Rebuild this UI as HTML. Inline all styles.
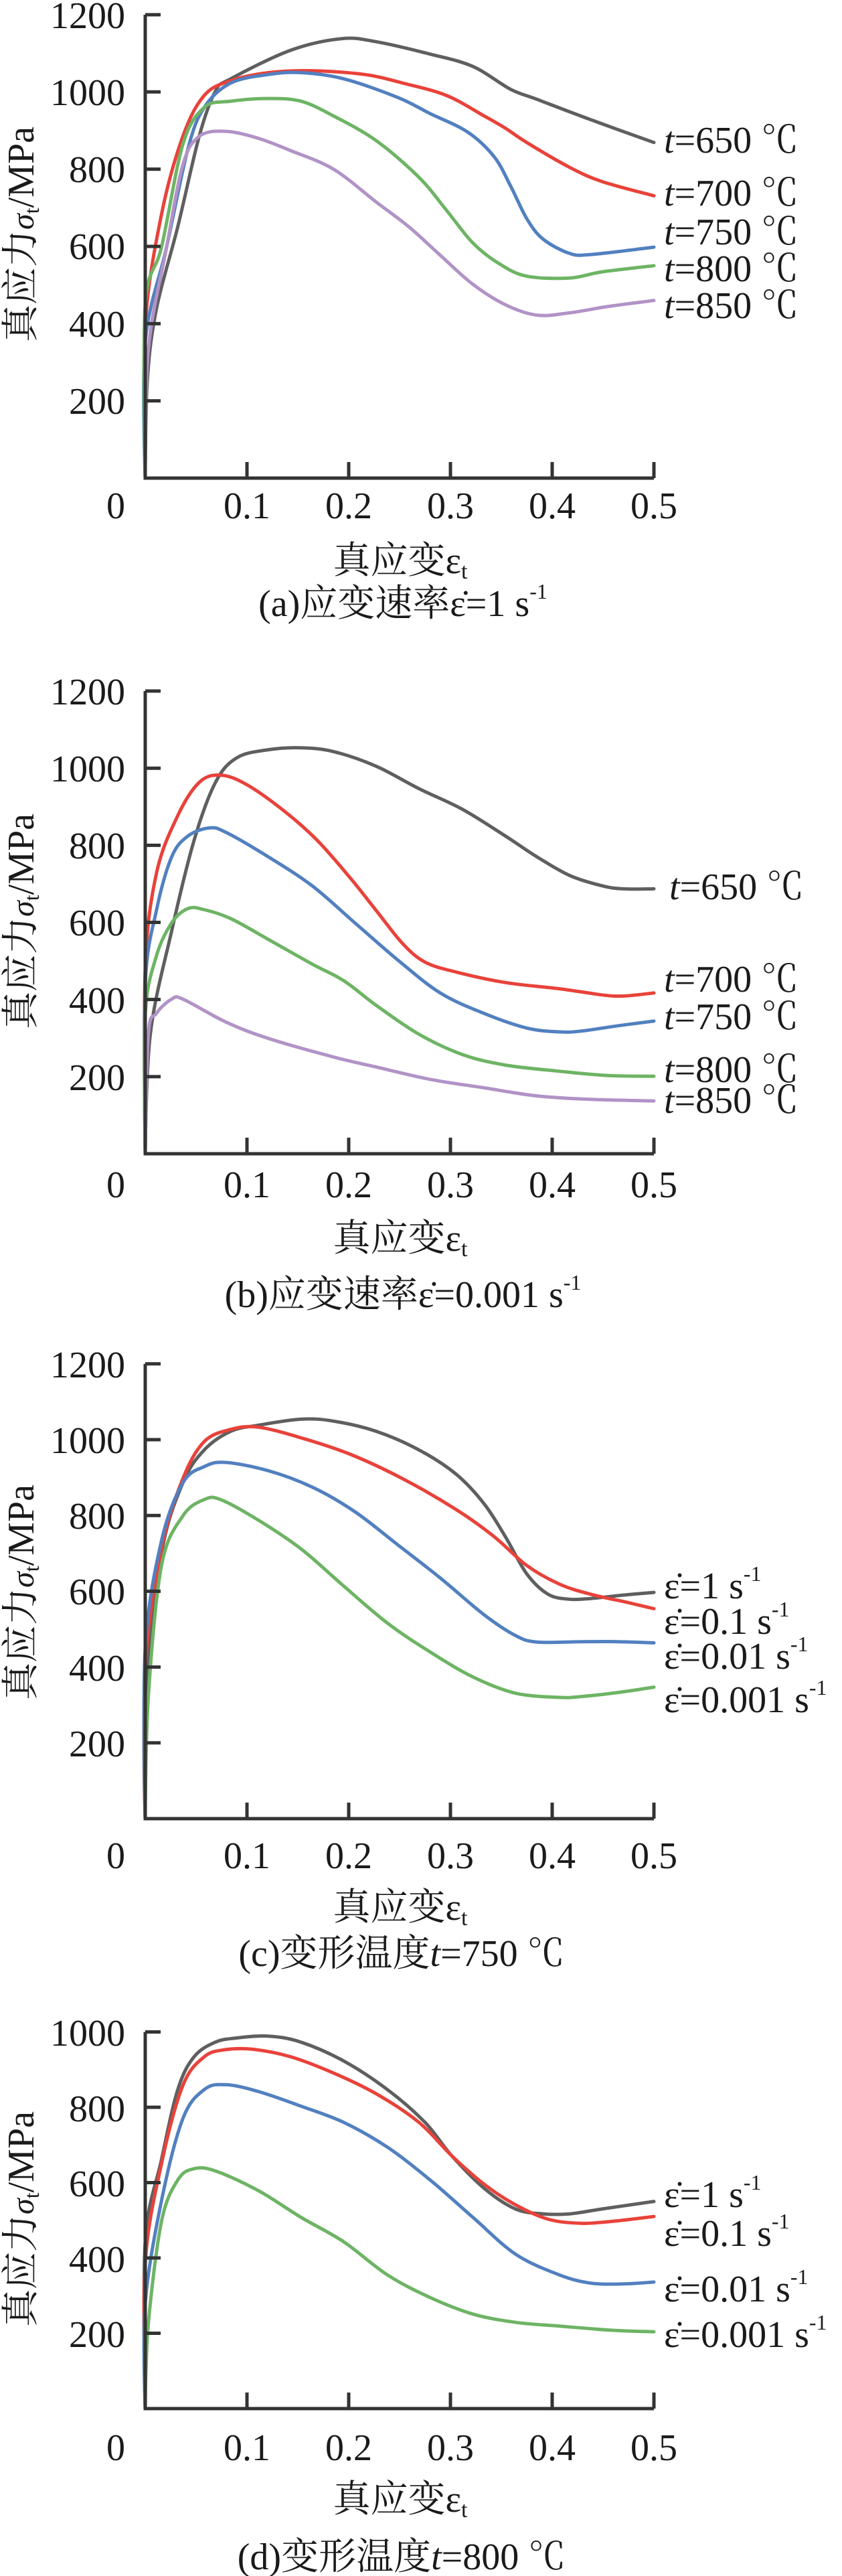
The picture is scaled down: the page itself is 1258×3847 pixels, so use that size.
<!DOCTYPE html>
<html><head><meta charset="utf-8">
<style>
html,body{margin:0;padding:0;background:#fff;}
svg{display:block;}
text{font-family:"Liberation Serif","Noto Serif CJK SC","Noto Sans CJK SC",serif;fill:#1a1a1a;}
.t{font-size:56px;}
</style></head>
<body>
<svg id="s" width="1258" height="3847" viewBox="0 0 1258 3847" xmlns="http://www.w3.org/2000/svg">
<g id="curves" fill="none" stroke-width="5" stroke-linejoin="round" stroke-linecap="round"></g>
<g id="axes" stroke="#333" stroke-width="5" fill="none"></g>
<g class="t">
<text x="187" y="42" text-anchor="end">1200</text>
<text x="187" y="157" text-anchor="end">1000</text>
<text x="187" y="272" text-anchor="end">800</text>
<text x="187" y="387" text-anchor="end">600</text>
<text x="187" y="503" text-anchor="end">400</text>
<text x="187" y="618" text-anchor="end">200</text>
<text x="173" y="774" text-anchor="middle">0</text>
<text x="369" y="774" text-anchor="middle">0.1</text>
<text x="521" y="774" text-anchor="middle">0.2</text>
<text x="673" y="774" text-anchor="middle">0.3</text>
<text x="825" y="774" text-anchor="middle">0.4</text>
<text x="977" y="774" text-anchor="middle">0.5</text>
<text x="598" y="856" text-anchor="middle">真应变ε<tspan font-size="34" dy="8">t</tspan></text>
<text x="602" y="920" text-anchor="middle">(a)应变速率ε̇=1 s<tspan font-size="32" dy="-26">-1</tspan></text>
<text transform="translate(50,350) rotate(-90)" text-anchor="middle">真应力<tspan font-style="italic" font-size="48">σ</tspan><tspan font-size="32" dy="8">t</tspan><tspan dy="-8">/MPa</tspan></text>
<text x="992" y="228"><tspan font-style="italic">t</tspan>=650 ℃</text>
<text x="992" y="307"><tspan font-style="italic">t</tspan>=700 ℃</text>
<text x="992" y="365"><tspan font-style="italic">t</tspan>=750 ℃</text>
<text x="992" y="420"><tspan font-style="italic">t</tspan>=800 ℃</text>
<text x="992" y="475"><tspan font-style="italic">t</tspan>=850 ℃</text>

<text x="187" y="1052" text-anchor="end">1200</text>
<text x="187" y="1167" text-anchor="end">1000</text>
<text x="187" y="1282" text-anchor="end">800</text>
<text x="187" y="1397" text-anchor="end">600</text>
<text x="187" y="1513" text-anchor="end">400</text>
<text x="187" y="1628" text-anchor="end">200</text>
<text x="173" y="1788" text-anchor="middle">0</text>
<text x="369" y="1788" text-anchor="middle">0.1</text>
<text x="521" y="1788" text-anchor="middle">0.2</text>
<text x="673" y="1788" text-anchor="middle">0.3</text>
<text x="825" y="1788" text-anchor="middle">0.4</text>
<text x="977" y="1788" text-anchor="middle">0.5</text>
<text x="598" y="1868" text-anchor="middle">真应变ε<tspan font-size="34" dy="8">t</tspan></text>
<text x="602" y="1952" text-anchor="middle">(b)应变速率ε̇=0.001 s<tspan font-size="32" dy="-26">-1</tspan></text>
<text transform="translate(50,1376) rotate(-90)" text-anchor="middle">真应力<tspan font-style="italic" font-size="48">σ</tspan><tspan font-size="32" dy="8">t</tspan><tspan dy="-8">/MPa</tspan></text>
<text x="1000" y="1343"><tspan font-style="italic">t</tspan>=650 ℃</text>
<text x="992" y="1481"><tspan font-style="italic">t</tspan>=700 ℃</text>
<text x="992" y="1537"><tspan font-style="italic">t</tspan>=750 ℃</text>
<text x="992" y="1616"><tspan font-style="italic">t</tspan>=800 ℃</text>
<text x="992" y="1662"><tspan font-style="italic">t</tspan>=850 ℃</text>

<text x="187" y="2057" text-anchor="end">1200</text>
<text x="187" y="2170" text-anchor="end">1000</text>
<text x="187" y="2283" text-anchor="end">800</text>
<text x="187" y="2396" text-anchor="end">600</text>
<text x="187" y="2510" text-anchor="end">400</text>
<text x="187" y="2623" text-anchor="end">200</text>
<text x="173" y="2790" text-anchor="middle">0</text>
<text x="369" y="2790" text-anchor="middle">0.1</text>
<text x="521" y="2790" text-anchor="middle">0.2</text>
<text x="673" y="2790" text-anchor="middle">0.3</text>
<text x="825" y="2790" text-anchor="middle">0.4</text>
<text x="977" y="2790" text-anchor="middle">0.5</text>
<text x="598" y="2867" text-anchor="middle">真应变ε<tspan font-size="34" dy="8">t</tspan></text>
<text x="600" y="2936" text-anchor="middle">(c)变形温度<tspan font-style="italic">t</tspan>=750 ℃</text>
<text transform="translate(50,2378) rotate(-90)" text-anchor="middle">真应力<tspan font-style="italic" font-size="48">σ</tspan><tspan font-size="32" dy="8">t</tspan><tspan dy="-8">/MPa</tspan></text>
<text x="992" y="2387">ε̇=1 s<tspan font-size="32" dy="-26">-1</tspan></text>
<text x="992" y="2440">ε̇=0.1 s<tspan font-size="32" dy="-26">-1</tspan></text>
<text x="992" y="2492">ε̇=0.01 s<tspan font-size="32" dy="-26">-1</tspan></text>
<text x="992" y="2557">ε̇=0.001 s<tspan font-size="32" dy="-26">-1</tspan></text>

<text x="187" y="3055" text-anchor="end">1000</text>
<text x="187" y="3168" text-anchor="end">800</text>
<text x="187" y="3280" text-anchor="end">600</text>
<text x="187" y="3393" text-anchor="end">400</text>
<text x="187" y="3505" text-anchor="end">200</text>
<text x="173" y="3674" text-anchor="middle">0</text>
<text x="369" y="3674" text-anchor="middle">0.1</text>
<text x="521" y="3674" text-anchor="middle">0.2</text>
<text x="673" y="3674" text-anchor="middle">0.3</text>
<text x="825" y="3674" text-anchor="middle">0.4</text>
<text x="977" y="3674" text-anchor="middle">0.5</text>
<text x="598" y="3751" text-anchor="middle">真应变ε<tspan font-size="34" dy="8">t</tspan></text>
<text x="600" y="3837" text-anchor="middle">(d)变形温度<tspan font-style="italic">t</tspan>=800 ℃</text>
<text transform="translate(50,3314) rotate(-90)" text-anchor="middle">真应力<tspan font-style="italic" font-size="48">σ</tspan><tspan font-size="32" dy="8">t</tspan><tspan dy="-8">/MPa</tspan></text>
<text x="992" y="3296">ε̇=1 s<tspan font-size="32" dy="-26">-1</tspan></text>
<text x="992" y="3354">ε̇=0.1 s<tspan font-size="32" dy="-26">-1</tspan></text>
<text x="992" y="3437">ε̇=0.01 s<tspan font-size="32" dy="-26">-1</tspan></text>
<text x="992" y="3505">ε̇=0.001 s<tspan font-size="32" dy="-26">-1</tspan></text>
</g>
</svg>
<script>
(function(){
var NS="http://www.w3.org/2000/svg";
var C={k:"#5f5f5f",r:"#e8423a",b:"#5280c0",g:"#6db464",p:"#b193c6"};
var panels=[
{y0:714,ys:0.5767,top:1200,series:[
["k",[[0,0],[.002,250],[.011,438],[.032,651],[.053,885],[.069,1002],[.084,1034],[.143,1108],[.193,1138],[.227,1130],[.28,1098],[.322,1066],[.359,1007],[.385,981],[.438,928],[.5,869]]],
["r",[[0,0],[0,396],[.016,683],[.037,885],[.058,991],[.084,1029],[.121,1050],[.164,1055],[.216,1045],[.253,1023],[.296,991],[.333,938],[.354,906],[.375,869],[.417,805],[.449,768],[.5,731]]],
["b",[[0,0],[0,353],[.021,598],[.042,853],[.058,960],[.084,1023],[.121,1045],[.153,1050],[.195,1034],[.248,986],[.28,944],[.317,896],[.343,832],[.359,757],[.375,672],[.391,619],[.417,582],[.438,579],[.5,598]]],
["g",[[0,0],[0,449],[.016,598],[.037,864],[.058,960],[.084,976],[.121,983],[.153,976],[.185,938],[.227,874],[.269,779],[.296,694],[.322,609],[.348,555],[.375,523],[.417,518],[.449,534],[.5,550]]],
["p",[[0,0],[.003,332],[.021,598],[.037,811],[.053,885],[.079,898],[.111,880],[.143,848],[.185,800],[.227,715],[.259,651],[.29,577],[.322,502],[.354,449],[.385,422],[.417,428],[.454,444],[.5,460]]]
]},
{y0:1723,ys:0.5758,top:1200,series:[
["k",[[0,0],[.005,310],[.026,578],[.048,813],[.069,963],[.09,1027],[.121,1048],[.153,1053],[.185,1043],[.227,1005],[.269,947],[.312,893],[.354,824],[.385,770],[.417,722],[.449,695],[.47,687],[.5,687]]],
["r",[[0,0],[0,480],[.011,727],[.032,877],[.053,963],[.074,982],[.1,957],[.137,888],[.169,813],[.201,717],[.227,631],[.253,545],[.275,497],[.306,471],[.354,444],[.407,428],[.449,412],[.47,409],[.5,417]]],
["b",[[0,0],[0,440],[.011,631],[.026,770],[.042,824],[.063,845],[.079,834],[.121,770],[.164,695],[.206,599],[.248,503],[.29,417],[.333,364],[.375,326],[.407,316],[.428,318],[.465,332],[.5,344]]],
["g",[[0,0],[0,360],[.011,513],[.026,599],[.042,636],[.058,633],[.084,610],[.121,556],[.164,492],[.195,449],[.227,385],[.269,310],[.312,257],[.354,230],[.407,214],[.454,203],[.5,201]]],
["p",[[0,0],[.003,310],[.011,364],[.026,401],[.037,401],[.079,342],[.121,299],[.185,251],[.227,225],[.28,193],[.333,171],[.385,150],[.438,141],[.5,137]]]
]},
{y0:2716,ys:0.566,top:1200,series:[
["k",[[0,0],[0,320],[.016,700],[.037,886],[.058,973],[.084,1022],[.111,1038],[.153,1054],[.185,1049],[.227,1022],[.269,973],[.306,908],[.333,831],[.354,744],[.375,646],[.396,592],[.417,579],[.438,581],[.47,590],[.5,597]]],
["r",[[0,0],[0,400],[.016,712],[.037,897],[.058,995],[.084,1027],[.111,1033],[.153,1005],[.201,962],[.253,897],[.306,815],[.343,744],[.375,668],[.407,619],[.438,592],[.475,570],[.5,554]]],
["b",[[0,0],[0,450],[.016,733],[.037,886],[.058,929],[.079,940],[.121,918],[.164,875],[.206,810],[.248,723],[.29,635],[.333,538],[.364,483],[.385,466],[.428,467],[.465,467],[.5,464]]],
["g",[[0,0],[.003,320],[.016,668],[.037,799],[.058,842],[.074,842],[.111,788],[.153,712],[.195,614],[.238,516],[.28,440],[.322,374],[.364,331],[.407,320],[.428,322],[.465,333],[.5,347]]]
]},
{y0:3597,ys:0.5625,top:1000,series:[
["k",[[0,0],[0,443],[.016,661],[.032,847],[.048,934],[.069,973],[.09,984],[.121,989],[.153,973],[.195,923],[.238,847],[.275,760],[.301,672],[.333,585],[.364,530],[.391,517],[.417,517],[.449,530],[.5,550]]],
["r",[[0,0],[0,388],[.016,650],[.037,858],[.058,934],[.079,953],[.106,954],[.143,934],[.185,891],[.227,836],[.269,760],[.301,672],[.333,596],[.364,541],[.396,503],[.428,492],[.459,497],[.5,510]]],
["b",[[0,0],[0,279],[.016,552],[.037,770],[.058,847],[.079,860],[.111,842],[.153,803],[.195,760],[.238,694],[.28,607],[.322,508],[.364,410],[.407,355],[.438,333],[.47,331],[.5,336]]],
["g",[[0,0],[.003,224],[.016,497],[.032,607],[.048,637],[.069,631],[.111,579],[.153,508],[.195,443],[.238,355],[.28,295],[.322,251],[.364,229],[.407,219],[.459,208],[.5,204]]]
]}
];
var cg=document.getElementById("curves"),ag=document.getElementById("axes");
function el(n,a,p){var e=document.createElementNS(NS,n);for(var k in a)e.setAttribute(k,a[k]);p.appendChild(e);return e;}
function smooth(P){
 var d="M"+P[0][0].toFixed(1)+","+P[0][1].toFixed(1);
 for(var i=0;i<P.length-1;i++){
  var p0=P[i>0?i-1:i],p1=P[i],p2=P[i+1],p3=P[i+2<P.length?i+2:i+1];
  var t=1/6;
  var c1=[p1[0]+(p2[0]-p0[0])*t,p1[1]+(p2[1]-p0[1])*t];
  var c2=[p2[0]-(p3[0]-p1[0])*t,p2[1]-(p3[1]-p1[1])*t];
  if(i===0){c1=[p1[0],p1[1]];}
  d+=" C"+c1[0].toFixed(1)+","+c1[1].toFixed(1)+" "+c2[0].toFixed(1)+","+c2[1].toFixed(1)+" "+p2[0].toFixed(1)+","+p2[1].toFixed(1);
 }
 return d;
}
panels.forEach(function(P){
 var X=function(s){return 217+s*1520;},Y=function(v){return P.y0-v*P.ys;};
 var ytop=Y(P.top);
 el("path",{d:"M217,"+ytop+" V"+P.y0+" H977"},ag);
 for(var v=200;v<=P.top;v+=200){el("path",{d:"M217,"+Y(v)+" H240"},ag);}
 for(var i=1;i<=5;i++){var x=X(i*0.1);el("path",{d:"M"+x+","+P.y0+" V"+(P.y0-24)},ag);}
 P.series.forEach(function(S){
  var pts=S[1].map(function(p){return [X(p[0]),Y(p[1])];});
  el("path",{d:smooth(pts),stroke:C[S[0]]},cg);
 });
});
})();
</script>
</body></html>
